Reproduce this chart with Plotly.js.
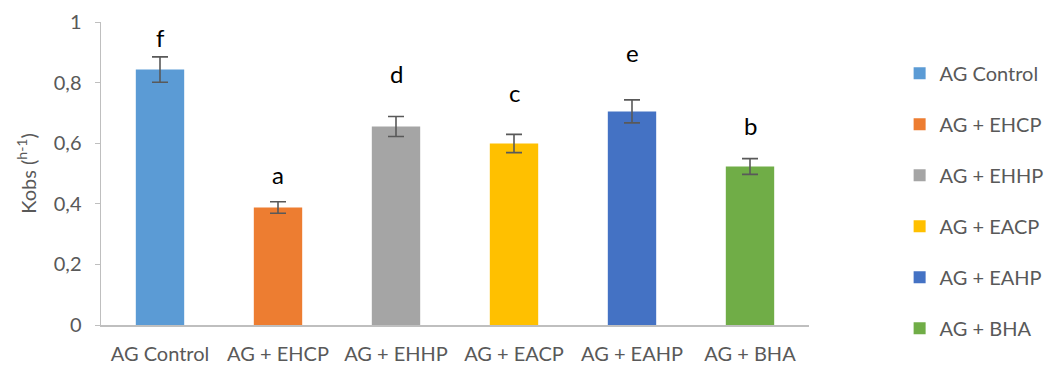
<!DOCTYPE html>
<html>
<head>
<meta charset="utf-8">
<script src="https://cdn.plot.ly/plotly-3.0.1.min.js"></script>
<style>html,body{margin:0;padding:0;background:#fff;}#chart{width:1045px;height:366px;}</style>
</head>
<body>
<div id="chart"></div>
<script>
var categories = ["AG Control", "AG + EHCP", "AG + EHHP", "AG + EACP", "AG + EAHP", "AG + BHA"];
var kobs = [0.843, 0.388, 0.655, 0.599, 0.705, 0.523];
var errors = [0.042, 0.019, 0.033, 0.030, 0.038, 0.026];
var letters = ["f", "a", "d", "c", "e", "b"];
var letterY = [0.95, 0.497, 0.83, 0.768, 0.90, 0.66];
var yTickVals = [0, 0.2, 0.4, 0.6, 0.8, 1];
var yTickText = ["0", "0,2", "0,4", "0,6", "0,8", "1"];
var colors = ["#5B9BD5", "#ED7D31", "#A5A5A5", "#FFC000", "#4472C4", "#70AD47"];

var FONT = "Lato, 'Open Sans', sans-serif";

var traces = categories.map(function (c, i) {
  return {
    type: "bar",
    name: c,
    x: [c],
    y: [kobs[i]],
    marker: {color: colors[i]},
    error_y: {type: "data", array: [errors[i]], visible: true, color: "#595959", thickness: 1.6, width: 8},
    legendgroup: "g" + i,
    hoverinfo: "x+y"
  };
});

var annotations = categories.map(function (c, i) {
  return {
    x: c, y: letterY[i], xref: "x", yref: "y",
    text: letters[i], showarrow: false,
    font: {family: FONT, size: 24, color: "#000"}
  };
});

var layout = {
  width: 1045, height: 366,
  margin: {l: 101, r: 236, t: 22, b: 41, pad: 0, autoexpand: false},
  paper_bgcolor: "#fff", plot_bgcolor: "#fff",
  separators: ", ",
  barmode: "overlay",
  bargap: 0.59,
  font: {family: FONT, size: 20, color: "#595959"},
  xaxis: {
    type: "category",
    categoryorder: "array", categoryarray: categories,
    showline: true, linecolor: "#BFBFBF", linewidth: 1.5,
    ticks: "", showgrid: false, zeroline: false,
    ticklabelstandoff: 10,
    tickfont: {family: FONT, size: 20, color: "#595959"}
  },
  yaxis: {
    range: [0, 1], tickmode: "array", tickvals: yTickVals, ticktext: yTickText,
    showline: true, linecolor: "#BFBFBF", linewidth: 1.5,
    ticks: "outside", ticklen: 5, tickcolor: "#BFBFBF", tickwidth: 1,
    ticklabelstandoff: 9,
    showgrid: false, zeroline: false,
    tickfont: {family: FONT, size: 20, color: "#595959"},
    title: {text: "Kobs (<sup>h-1</sup>)", font: {family: FONT, size: 20, color: "#595959"}, standoff: 12}
  },
  showlegend: true,
  legend: {
    x: 1.128, y: 0.895, xanchor: "left", yanchor: "top",
    traceorder: "grouped", tracegroupgap: 22,
    itemwidth: 30, maxheight: 360,
    font: {family: FONT, size: 20, color: "#595959"},
    bgcolor: "rgba(0,0,0,0)"
  },
  annotations: annotations
};

Plotly.newPlot("chart", traces, layout, {displayModeBar: false, staticPlot: true});
</script>
</body>
</html>
